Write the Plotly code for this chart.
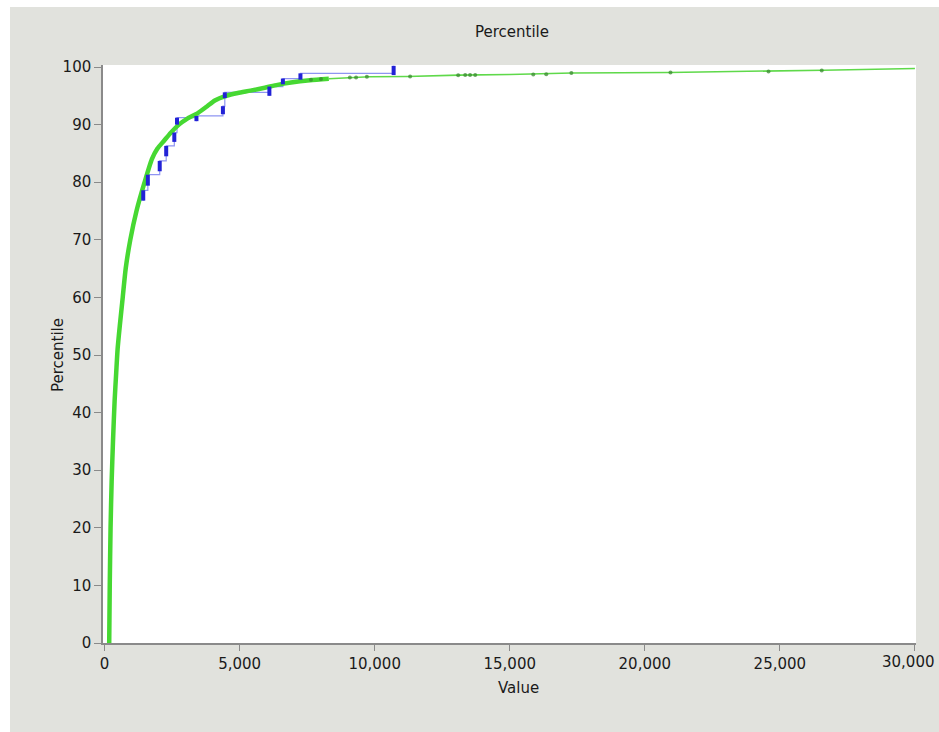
import plotly.graph_objects as go

# Green curve (fitted / smoothed cumulative percentile)
green_value = [170, 190, 220, 260, 310, 370, 430, 480, 560, 670, 780, 950, 1180, 1480,
               1750, 1950, 2200, 2450, 2750, 3050, 3450, 3800, 4080, 4500, 4930, 5400,
               5930, 6400, 6900, 7600, 8300, 9100, 9800, 11200, 13100, 15000, 17300,
               20900, 24600, 26600, 30000]
green_pct = [0, 10, 20, 28, 35, 42, 47, 51, 55, 60, 65, 70, 75, 80,
             84, 85.8, 87.2, 88.6, 90, 91, 92, 93.2, 94.2, 95, 95.5, 95.9,
             96.4, 96.9, 97.3, 97.7, 97.95, 98.2, 98.3, 98.35, 98.6, 98.7, 98.95,
             99.05, 99.25, 99.45, 99.75]
thick_end = 8300  # the thick part of the green curve stops here; the tail is thin

# Dark green data dots along the upper tail
dot_value = [7640, 8010, 9080, 9310, 9710, 11310, 13090, 13350, 13530, 13720,
             15870, 16350, 17280, 20950, 24580, 26550]
dot_pct = [97.8, 97.9, 98.2, 98.2, 98.3, 98.35, 98.55, 98.6, 98.6, 98.6,
           98.7, 98.75, 98.95, 99.05, 99.2, 99.4]

# Blue empirical steps: value, low and high percentile of each vertical jump
blue_value = [1430, 1600, 2040, 2280, 2580, 2680, 3400, 4380, 4450, 6100, 6600, 7250, 10700]
blue_lo = [76.8, 79.4, 81.9, 84.5, 87.0, 90.0, 90.6, 91.8, 94.6, 95.0, 97.0, 97.8, 98.6]
blue_hi = [78.6, 81.3, 83.7, 86.3, 88.6, 91.2, 91.5, 93.2, 95.6, 96.6, 98.0, 98.9, 100.2]

x_ticks = [0, 5000, 10000, 15000, 20000, 25000, 30000]
x_ticktext = ["0", "5,000", "10,000", "15,000", "20,000", "25,000", "30,000"]
y_ticks = list(range(0, 101, 10))

# Build traces
path_x, path_y = [], []
for v, lo, hi in zip(blue_value, blue_lo, blue_hi):
    path_x += [v, v]
    path_y += [lo, hi]

seg_x, seg_y = [], []
for v, lo, hi in zip(blue_value, blue_lo, blue_hi):
    seg_x += [v, v, None]
    seg_y += [lo, hi, None]

thick_x = [v for v in green_value if v <= thick_end]
thick_y = green_pct[:len(thick_x)]
thin_x = green_value[len(thick_x) - 1:]
thin_y = green_pct[len(thick_x) - 1:]

fig = go.Figure()
fig.add_trace(go.Scatter(x=path_x, y=path_y, mode="lines",
                         line=dict(color="#8f95f2", width=1.2, shape="hv"),
                         hoverinfo="skip", showlegend=False))
fig.add_trace(go.Scatter(x=thin_x, y=thin_y, mode="lines",
                         line=dict(color="#5fd94a", width=1.6),
                         showlegend=False, hoverinfo="skip"))
fig.add_trace(go.Scatter(x=thick_x, y=thick_y, mode="lines",
                         line=dict(color="#46d832", width=4.5, shape="spline", smoothing=0.6),
                         showlegend=False))
fig.add_trace(go.Scatter(x=dot_value, y=dot_pct, mode="markers",
                         marker=dict(color="#3a8a30", size=4, opacity=0.75),
                         showlegend=False))
fig.add_trace(go.Scatter(x=seg_x, y=seg_y, mode="lines",
                         line=dict(color="#2222d6", width=4),
                         showlegend=False))

font_family = "DejaVu Sans, Verdana, sans-serif"
fs = 15

# last x label would overflow the page edge; draw it as a right-anchored annotation instead
axis_ticktext = x_ticktext[:-1] + [""]

fig.update_layout(
    width=939, height=732, autosize=False,
    margin=dict(l=103, r=23, t=65, b=89),
    paper_bgcolor="#e1e2dd",
    plot_bgcolor="#ffffff",
    font=dict(family=font_family, size=fs, color="#1a1a1a"),
    showlegend=False,
    xaxis=dict(range=[-60, 30040], tickvals=x_ticks, ticktext=axis_ticktext,
               ticks="outside", ticklen=6, tickcolor="#8a8a8a",
               showline=True, linecolor="#8a8a8a", linewidth=1.5,
               showgrid=False, zeroline=False, tickfont=dict(size=fs)),
    yaxis=dict(range=[0, 100.35], tickvals=y_ticks,
               ticks="outside", ticklen=7, tickcolor="#8a8a8a",
               showline=True, linecolor="#8a8a8a", linewidth=1.5,
               showgrid=False, zeroline=False, tickfont=dict(size=fs)),
    annotations=[
        dict(text="Percentile", x=(512 - 103) / 813, y=(643 - 32) / 578, xref="paper", yref="paper",
             showarrow=False, font=dict(size=fs), xanchor="center", yanchor="middle"),
        dict(text="Value", x=(518 - 103) / 813, y=-(688 - 643) / 578, xref="paper", yref="paper",
             showarrow=False, font=dict(size=fs), xanchor="center", yanchor="middle"),
        dict(text="Percentile", x=-(103 - 58) / 813, y=(643 - 355) / 578, xref="paper", yref="paper",
             showarrow=False, font=dict(size=fs), textangle=-90, xanchor="center", yanchor="middle"),
        dict(text=x_ticktext[-1], x=(936 - 103) / 813, y=-(662 - 643) / 578, xref="paper", yref="paper",
             showarrow=False, font=dict(size=fs), xanchor="right", yanchor="middle", borderpad=0),
    ],
    shapes=[
        dict(type="rect", xref="paper", yref="paper",
             x0=-103 / 813, x1=(939 - 103) / 813, y0=(643 - 7) / 578, y1=643 / 578,
             fillcolor="#ffffff", line=dict(width=0), layer="above"),
        dict(type="rect", xref="paper", yref="paper",
             x0=-103 / 813, x1=-93 / 813, y0=-89 / 578, y1=643 / 578,
             fillcolor="#ffffff", line=dict(width=0), layer="above"),
    ],
)

post = ("document.documentElement.style.overflow='hidden';"
        "document.body.style.overflow='hidden';"
        "document.body.style.margin='0';")

fig.write_html("out.html", config={"responsive": False}, post_script=post)
